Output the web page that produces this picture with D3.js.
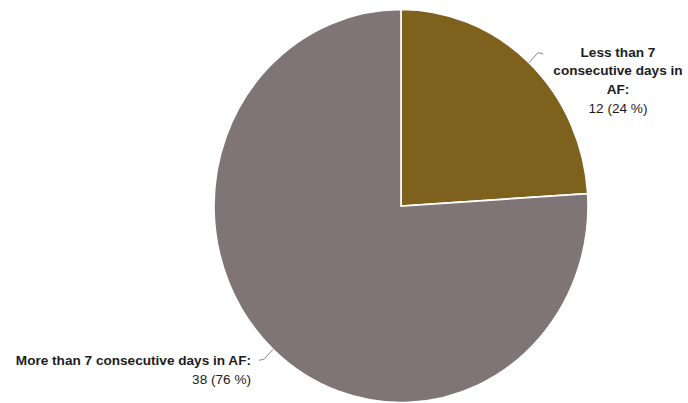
<!DOCTYPE html>
<html>
<head>
<meta charset="utf-8">
<script src="https://cdn.jsdelivr.net/npm/d3@7/dist/d3.min.js"></script>
<style>
  html, body { margin: 0; padding: 0; background: #fff; }
  svg text { font-family: "Liberation Sans", Arial, sans-serif; fill: #1c1c24; }
</style>
</head>
<body>
<svg id="chart" width="688" height="403"></svg>
<script>
// data
const categories = ["Less than 7 consecutive days in AF:", "More than 7 consecutive days in AF:"];
const values = [12, 38];
const percents = [24, 76];
const labelLines = [
  ["Less than 7", "consecutive days in", "AF:"],
  ["More than 7 consecutive days in AF:"]
];
const colors = ["#7d611c", "#7f7476"];

const width = 688, height = 403;
const cx = 401, cy = 206;
const rx = 187, ry = 196.5;

const svg = d3.select("#chart");

const pie = d3.pie().sort(null).value(d => d.value);
const arcs = pie(categories.map((c, i) => ({ cat: c, value: values[i], pct: percents[i], lines: labelLines[i], color: colors[i] })));

const arc = d3.arc().innerRadius(0).outerRadius(rx);

// slightly taller than wide, like the original
const g = svg.append("g")
  .attr("transform", `translate(${cx},${cy}) scale(1,${ry / rx})`);

g.selectAll("path")
  .data(arcs)
  .enter()
  .append("path")
  .attr("d", arc)
  .attr("fill", d => d.data.color)
  .attr("stroke", "#fff")
  .attr("stroke-width", 1.6);

// leader lines
function pt(angle, k) {
  return [cx + rx * k * Math.sin(angle), cy - ry * k * Math.cos(angle)];
}

arcs.forEach((d, i) => {
  const mid = (d.startAngle + d.endAngle) / 2;
  const p0 = pt(mid, 1.0);
  const p1 = pt(mid, 1.07);
  const right = Math.sin(mid) > 0;
  const p2 = [p1[0] + (right ? 5 : -5), p1[1] + 1];
  svg.append("polyline")
    .attr("points", [p0, p1, p2].map(p => p.join(",")).join(" "))
    .attr("fill", "none")
    .attr("stroke", "#8a8a8a")
    .attr("stroke-width", 1);

  const t = svg.append("text").attr("font-size", 13.6);
  if (right) {
    const x = p1[0] + 80, y0 = p1[1] + 4;
    t.attr("text-anchor", "middle");
    d.data.lines.forEach((l, j) => {
      t.append("tspan").attr("x", x).attr("y", y0 + j * 18.7).attr("font-weight", "bold").text(l);
    });
    t.append("tspan").attr("x", x).attr("y", y0 + d.data.lines.length * 18.7)
      .text(`${d.data.value} (${d.data.pct} %)`);
  } else {
    const x = p2[0] - 8, y0 = p1[1] + 6;
    t.attr("text-anchor", "end");
    d.data.lines.forEach((l, j) => {
      t.append("tspan").attr("x", x).attr("y", y0 + j * 19).attr("font-weight", "bold").text(l);
    });
    t.append("tspan").attr("x", x).attr("y", y0 + d.data.lines.length * 19)
      .text(`${d.data.value} (${d.data.pct} %)`);
  }
});
</script>
</body>
</html>
